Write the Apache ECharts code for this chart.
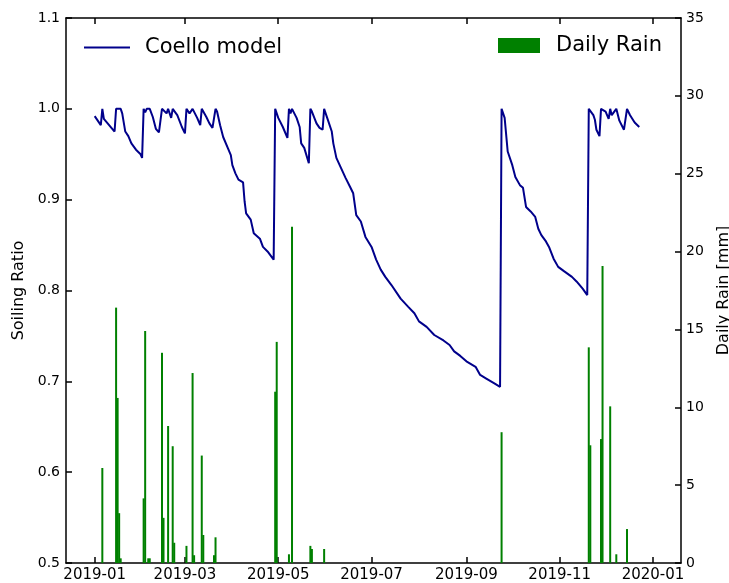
<!DOCTYPE html>
<html>
<head>
<meta charset="utf-8">
<script src="https://cdn.jsdelivr.net/npm/echarts@6/dist/echarts.min.js"></script>
<style>html,body{margin:0;padding:0;background:#fff;overflow:hidden}#c{width:729px;height:583px}</style>
</head>
<body>
<div id="c"></div>
<script>
// ---- data ----
const lineDates = [
 '2019-01-01','2019-01-05','2019-01-06','2019-01-07','2019-01-14','2019-01-15','2019-01-18','2019-01-19',
 '2019-01-21','2019-01-23','2019-01-25','2019-01-28','2019-01-31','2019-02-01','2019-02-02','2019-02-03',
 '2019-02-04','2019-02-06','2019-02-08','2019-02-10','2019-02-12','2019-02-13','2019-02-14','2019-02-15',
 '2019-02-17','2019-02-18','2019-02-20','2019-02-21','2019-02-22','2019-02-24','2019-02-27','2019-03-01',
 '2019-03-02','2019-03-04','2019-03-06','2019-03-07','2019-03-09','2019-03-11','2019-03-12','2019-03-13',
 '2019-03-15','2019-03-17','2019-03-19','2019-03-21','2019-03-22','2019-03-24','2019-03-26','2019-03-29',
 '2019-03-31','2019-04-01','2019-04-03','2019-04-05','2019-04-08','2019-04-09','2019-04-10','2019-04-13',
 '2019-04-15','2019-04-19','2019-04-21','2019-04-24','2019-04-28','2019-04-29','2019-05-01','2019-05-04',
 '2019-05-07','2019-05-08','2019-05-09','2019-05-10','2019-05-13','2019-05-15','2019-05-16','2019-05-18',
 '2019-05-21','2019-05-22','2019-05-23','2019-05-26','2019-05-28','2019-05-30','2019-05-31','2019-06-02',
 '2019-06-05','2019-06-06','2019-06-08','2019-06-11','2019-06-14','2019-06-17','2019-06-19','2019-06-21',
 '2019-06-24','2019-06-27','2019-07-01','2019-07-04','2019-07-07','2019-07-10','2019-07-14','2019-07-20',
 '2019-07-25','2019-07-29','2019-08-01','2019-08-06','2019-08-11','2019-08-17','2019-08-21','2019-08-24',
 '2019-08-28','2019-09-01','2019-09-07','2019-09-10','2019-09-14','2019-09-19','2019-09-23','2019-09-24',
 '2019-09-26','2019-09-28','2019-10-01','2019-10-03','2019-10-06','2019-10-08','2019-10-10','2019-10-13',
 '2019-10-16','2019-10-18','2019-10-20','2019-10-23','2019-10-25','2019-10-28','2019-10-31','2019-11-04',
 '2019-11-09','2019-11-12','2019-11-16','2019-11-19','2019-11-20','2019-11-21','2019-11-23','2019-11-24',
 '2019-11-25','2019-11-27','2019-11-28','2019-11-29','2019-12-01','2019-12-03','2019-12-04','2019-12-05',
 '2019-12-06','2019-12-08','2019-12-10','2019-12-13','2019-12-15','2019-12-17','2019-12-20','2019-12-23'
];
const lineValues = [
 0.992,0.982,1.0,0.989,0.975,1.0,1.0,0.995,
 0.975,0.970,0.962,0.955,0.950,0.946,1.0,0.996,
 1.0,1.0,0.991,0.978,0.974,0.973,1.0,1.0,
 0.995,1.0,0.990,1.0,1.0,0.993,0.980,0.973,
 1.0,0.995,1.0,1.0,0.990,0.982,1.0,1.0,
 0.991,0.984,0.979,1.0,0.997,0.982,0.969,0.957,
 0.949,0.938,0.929,0.922,0.919,0.898,0.885,0.878,
 0.863,0.857,0.848,0.843,0.834,1.0,0.990,0.980,
 0.968,1.0,0.995,1.0,0.990,0.980,0.962,0.957,
 0.940,1.0,0.997,0.984,0.979,0.977,1.0,0.990,
 0.975,0.962,0.946,0.935,0.924,0.914,0.907,0.883,
 0.876,0.859,0.848,0.834,0.823,0.815,0.806,0.791,
 0.782,0.775,0.766,0.760,0.751,0.745,0.740,0.733,
 0.728,0.722,0.716,0.707,0.703,0.698,0.694,1.0,
 0.990,0.953,0.938,0.925,0.916,0.913,0.892,0.887,
 0.881,0.868,0.861,0.854,0.848,0.835,0.826,0.821,
 0.815,0.810,0.802,0.795,1.0,1.0,0.993,0.988,
 0.977,0.970,1.0,1.0,0.997,0.989,1.0,0.993,
 0.991,1.0,0.987,0.977,1.0,0.993,0.985,0.980
];
const rainDates = [
 '2019-01-06','2019-01-15','2019-01-16','2019-01-17','2019-01-18','2019-02-02','2019-02-03','2019-02-05',
 '2019-02-06','2019-02-14','2019-02-15','2019-02-18','2019-02-21','2019-02-22','2019-03-02','2019-03-06',
 '2019-03-07','2019-03-12','2019-03-13','2019-03-20','2019-03-21','2019-04-29','2019-04-30','2019-05-08',
 '2019-05-10','2019-05-22','2019-05-23','2019-05-31','2019-09-24','2019-11-20','2019-11-21','2019-11-28',
 '2019-11-29','2019-12-04','2019-12-08','2019-12-15'
];
const rainValues = [
 6.1,16.4,10.6,3.2,0.3,4.15,14.9,0.3,
 0.3,13.5,2.9,8.8,7.5,1.3,1.1,12.2,
 0.5,6.9,1.8,0.5,1.65,11.0,14.2,0.56,
 21.6,1.1,0.9,0.9,8.4,13.85,7.56,7.96,
 19.07,10.06,0.56,2.18
];
const xTickLabels = ['2019-01','2019-03','2019-05','2019-07','2019-09','2019-11','2020-01'];
const xMin = '2018-12-13 06:00';
const xMax = '2020-01-19 07:00';

// ---- chart ----
const toT = s => echarts.time.parse(s).getTime();
const tickVals = xTickLabels.map(s => toT(s + '-01'));
const minT = toT(xMin);
const maxT = toT(xMax);
const fontFam = 'DejaVu Sans';
const pad = n => (n < 10 ? '0' : '') + n;
const fmtMonth = v => { const d = new Date(v); return d.getFullYear() + '-' + pad(d.getMonth() + 1); };

const chart = echarts.init(document.getElementById('c'), null, { renderer: 'canvas', width: 729, height: 583 });
chart.setOption({
  animation: false,
  backgroundColor: '#fff',
  textStyle: { fontFamily: fontFam },
  grid: { left: 66, right: 48, top: 18, bottom: 20, containLabel: false, outerBoundsMode: 'none' },
  legend: [
    {
      data: [{ name: 'Coello model', icon: 'rect' }],
      left: 79, top: 32, itemWidth: 46, itemHeight: 2, itemGap: 10,
      textStyle: { fontSize: 21, color: '#000', fontFamily: fontFam, padding: [0, 0, 0, 10] }
    },
    {
      data: [{ name: 'Daily Rain', icon: 'rect' }],
      left: 493, top: 30, itemWidth: 42, itemHeight: 15,
      textStyle: { fontSize: 21, color: '#000', fontFamily: fontFam, padding: [2, 0, 0, 11] }
    }
  ],
  xAxis: [
    {
      type: 'value', min: minT, max: maxT, position: 'bottom',
      axisLine: { show: true, lineStyle: { color: '#000', width: 1.5 } },
      axisTick: { show: true, inside: true, length: 6, customValues: tickVals, lineStyle: { color: '#000', width: 1.5 } },
      axisLabel: {
        show: true, customValues: tickVals, color: '#000', fontSize: 15, margin: 5, fontFamily: fontFam,
        formatter: fmtMonth
      },
      splitLine: { show: false }
    },
    {
      type: 'value', min: minT, max: maxT, position: 'top',
      axisLine: { show: true, lineStyle: { color: '#000', width: 1.5 } },
      axisTick: { show: true, inside: true, length: 6, customValues: tickVals, lineStyle: { color: '#000', width: 1.5 } },
      axisLabel: { show: false },
      splitLine: { show: false }
    }
  ],
  yAxis: [
    {
      type: 'value', min: 0.5, max: 1.1, interval: 0.1, position: 'left',
      name: 'Soiling Ratio', nameLocation: 'middle', nameGap: 37, nameRotate: 90,
      nameTextStyle: { fontSize: 16, color: '#000', fontFamily: fontFam },
      axisLine: { show: true, lineStyle: { color: '#000', width: 1.5 } },
      axisTick: { show: true, inside: true, length: 6, lineStyle: { color: '#000', width: 1.5 } },
      axisLabel: { color: '#000', fontSize: 14, margin: 6, fontFamily: fontFam, formatter: v => v.toFixed(1) },
      splitLine: { show: false }
    },
    {
      type: 'value', min: 0, max: 35, interval: 5, position: 'right',
      name: 'Daily Rain [mm]', nameLocation: 'middle', nameGap: 35, nameRotate: 90,
      nameTextStyle: { fontSize: 16, color: '#000', fontFamily: fontFam },
      axisLine: { show: true, lineStyle: { color: '#000', width: 1.5 } },
      axisTick: { show: true, inside: true, length: 6, lineStyle: { color: '#000', width: 1.5 } },
      axisLabel: { color: '#000', fontSize: 14, margin: 5, fontFamily: fontFam },
      splitLine: { show: false }
    }
  ],
  series: [
    {
      name: 'Daily Rain', type: 'bar', xAxisIndex: 0, yAxisIndex: 1,
      data: rainDates.map((d, i) => [toT(d), rainValues[i]]),
      barWidth: 2, itemStyle: { color: '#008000' }, z: 1
    },
    {
      name: 'Coello model', type: 'line', xAxisIndex: 0, yAxisIndex: 0,
      data: lineDates.map((d, i) => [toT(d), lineValues[i]]),
      showSymbol: false, symbol: 'none',
      lineStyle: { color: '#00008B', width: 2 }, itemStyle: { color: '#00008B' }, z: 3
    }
  ]
});
</script>
</body>
</html>
